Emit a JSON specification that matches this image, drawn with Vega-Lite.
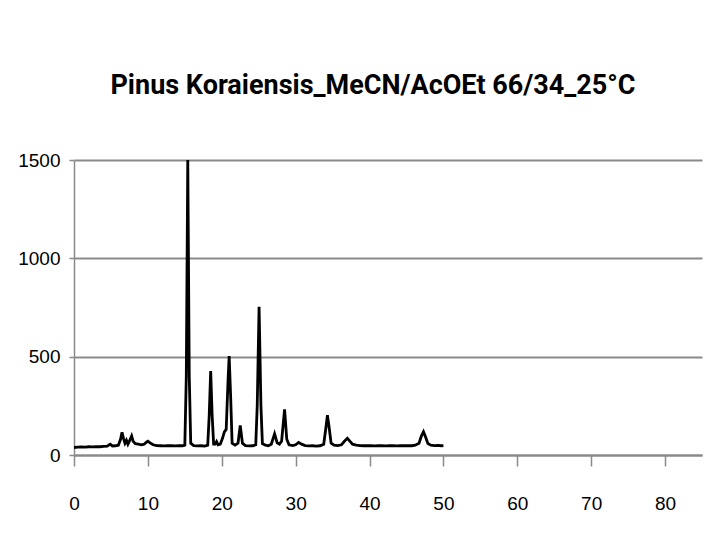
{
  "$schema": "https://vega.github.io/schema/vega-lite/v6.json",
  "autosize": "none",
  "width": 628,
  "height": 295,
  "padding": {"left": 74, "top": 160, "right": 2, "bottom": 84},
  "background": "white",
  "config": {
    "view": {"stroke": null},
    "font": "Liberation Sans, Arial, sans-serif"
  },
  "title": {
    "text": "Pinus Koraiensis_MeCN/AcOEt  66/34_25°C",
    "fontSize": 27,
    "fontWeight": "bold",
    "color": "#000000",
    "font": "Roboto, Liberation Sans, sans-serif",
    "anchor": "middle",
    "dx": -15,
    "offset": 51
  },
  "data": {
    "values": [
      {"x": 0, "y": 38}, {"x": 0.5, "y": 40}, {"x": 1, "y": 41}, {"x": 1.5, "y": 40},
      {"x": 2, "y": 42}, {"x": 2.5, "y": 41}, {"x": 3, "y": 43}, {"x": 3.5, "y": 42},
      {"x": 4, "y": 44}, {"x": 4.5, "y": 45}, {"x": 4.9, "y": 55}, {"x": 5.2, "y": 46},
      {"x": 5.6, "y": 47}, {"x": 6.0, "y": 50}, {"x": 6.3, "y": 80}, {"x": 6.5, "y": 115},
      {"x": 6.7, "y": 85}, {"x": 6.9, "y": 60}, {"x": 7.1, "y": 75}, {"x": 7.3, "y": 55},
      {"x": 7.5, "y": 70}, {"x": 7.8, "y": 97}, {"x": 8.0, "y": 70}, {"x": 8.3, "y": 58},
      {"x": 8.7, "y": 55}, {"x": 9.1, "y": 52}, {"x": 9.5, "y": 55}, {"x": 9.8, "y": 65},
      {"x": 10.0, "y": 70}, {"x": 10.3, "y": 62}, {"x": 10.7, "y": 52}, {"x": 11.2, "y": 48},
      {"x": 11.7, "y": 47}, {"x": 12.2, "y": 46}, {"x": 12.7, "y": 48}, {"x": 13.2, "y": 47},
      {"x": 13.7, "y": 46}, {"x": 14.2, "y": 48}, {"x": 14.7, "y": 47}, {"x": 15.0, "y": 50},
      {"x": 15.2, "y": 400}, {"x": 15.4, "y": 1500}, {"x": 15.6, "y": 400}, {"x": 15.8, "y": 60},
      {"x": 16.2, "y": 48}, {"x": 16.7, "y": 46}, {"x": 17.2, "y": 47}, {"x": 17.7, "y": 45},
      {"x": 18.1, "y": 50}, {"x": 18.3, "y": 200}, {"x": 18.5, "y": 427}, {"x": 18.7, "y": 200},
      {"x": 18.9, "y": 55}, {"x": 19.1, "y": 55}, {"x": 19.3, "y": 68}, {"x": 19.5, "y": 52},
      {"x": 19.8, "y": 55}, {"x": 20.1, "y": 85}, {"x": 20.35, "y": 118}, {"x": 20.6, "y": 130},
      {"x": 20.85, "y": 380}, {"x": 21.0, "y": 503}, {"x": 21.2, "y": 300}, {"x": 21.4, "y": 60},
      {"x": 21.8, "y": 50}, {"x": 22.2, "y": 60}, {"x": 22.5, "y": 150}, {"x": 22.8, "y": 60},
      {"x": 23.2, "y": 48}, {"x": 23.7, "y": 46}, {"x": 24.2, "y": 47}, {"x": 24.6, "y": 52},
      {"x": 24.8, "y": 250}, {"x": 25.05, "y": 754}, {"x": 25.3, "y": 250}, {"x": 25.5, "y": 58},
      {"x": 25.9, "y": 50}, {"x": 26.3, "y": 47}, {"x": 26.7, "y": 55}, {"x": 27.15, "y": 108},
      {"x": 27.5, "y": 62}, {"x": 27.8, "y": 55}, {"x": 28.1, "y": 70}, {"x": 28.5, "y": 232},
      {"x": 28.8, "y": 80}, {"x": 29.1, "y": 52}, {"x": 29.6, "y": 48}, {"x": 30.0, "y": 52},
      {"x": 30.4, "y": 64}, {"x": 30.8, "y": 55}, {"x": 31.3, "y": 48}, {"x": 31.8, "y": 46},
      {"x": 32.3, "y": 47}, {"x": 32.8, "y": 45}, {"x": 33.3, "y": 47}, {"x": 33.8, "y": 55},
      {"x": 34.1, "y": 140}, {"x": 34.3, "y": 203}, {"x": 34.5, "y": 150}, {"x": 34.8, "y": 60},
      {"x": 35.2, "y": 50}, {"x": 35.7, "y": 48}, {"x": 36.2, "y": 52}, {"x": 36.6, "y": 70},
      {"x": 37.0, "y": 85}, {"x": 37.3, "y": 72}, {"x": 37.7, "y": 55}, {"x": 38.2, "y": 50},
      {"x": 38.7, "y": 48}, {"x": 39.2, "y": 47}, {"x": 39.7, "y": 48}, {"x": 40.2, "y": 47},
      {"x": 40.7, "y": 46}, {"x": 41.2, "y": 48}, {"x": 41.7, "y": 47}, {"x": 42.2, "y": 46},
      {"x": 42.7, "y": 48}, {"x": 43.2, "y": 47}, {"x": 43.7, "y": 46}, {"x": 44.2, "y": 48},
      {"x": 44.7, "y": 47}, {"x": 45.2, "y": 48}, {"x": 45.7, "y": 47}, {"x": 46.2, "y": 50},
      {"x": 46.7, "y": 60}, {"x": 47.0, "y": 95}, {"x": 47.3, "y": 118}, {"x": 47.6, "y": 90},
      {"x": 47.9, "y": 58}, {"x": 48.3, "y": 50}, {"x": 48.8, "y": 48}, {"x": 49.3, "y": 49},
      {"x": 49.7, "y": 47}, {"x": 50.0, "y": 48}
    ]
  },
  "mark": {"type": "line", "color": "#000000", "strokeWidth": 2.8, "clip": true},
  "encoding": {
    "x": {
      "field": "x",
      "type": "quantitative",
      "scale": {"domain": [0, 85], "nice": false, "zero": false},
      "axis": {
        "title": null,
        "values": [0, 10, 20, 30, 40, 50, 60, 70, 80],
        "format": "d",
        "grid": false,
        "domainColor": "#8a8a8a",
        "domainWidth": 2,
        "tickColor": "#8a8a8a",
        "tickWidth": 1.5,
        "tickSize": 11,
        "labelFont": "Liberation Sans, Arial, sans-serif",
        "labelFontSize": 19,
        "labelColor": "#000000",
        "labelPadding": 28,
        "labelFlush": false
      }
    },
    "y": {
      "field": "y",
      "type": "quantitative",
      "scale": {"domain": [0, 1500], "nice": false},
      "axis": {
        "title": null,
        "values": [0, 500, 1000, 1500],
        "format": "d",
        "grid": true,
        "gridColor": "#8a8a8a",
        "gridWidth": 2,
        "domainColor": "#8a8a8a",
        "domainWidth": 1.5,
        "tickColor": "#8a8a8a",
        "tickWidth": 1.5,
        "tickSize": 5,
        "labelFont": "Liberation Sans, Arial, sans-serif",
        "labelFontSize": 19,
        "labelColor": "#000000",
        "labelPadding": 9,
        "labelFlush": false
      }
    }
  }
}
